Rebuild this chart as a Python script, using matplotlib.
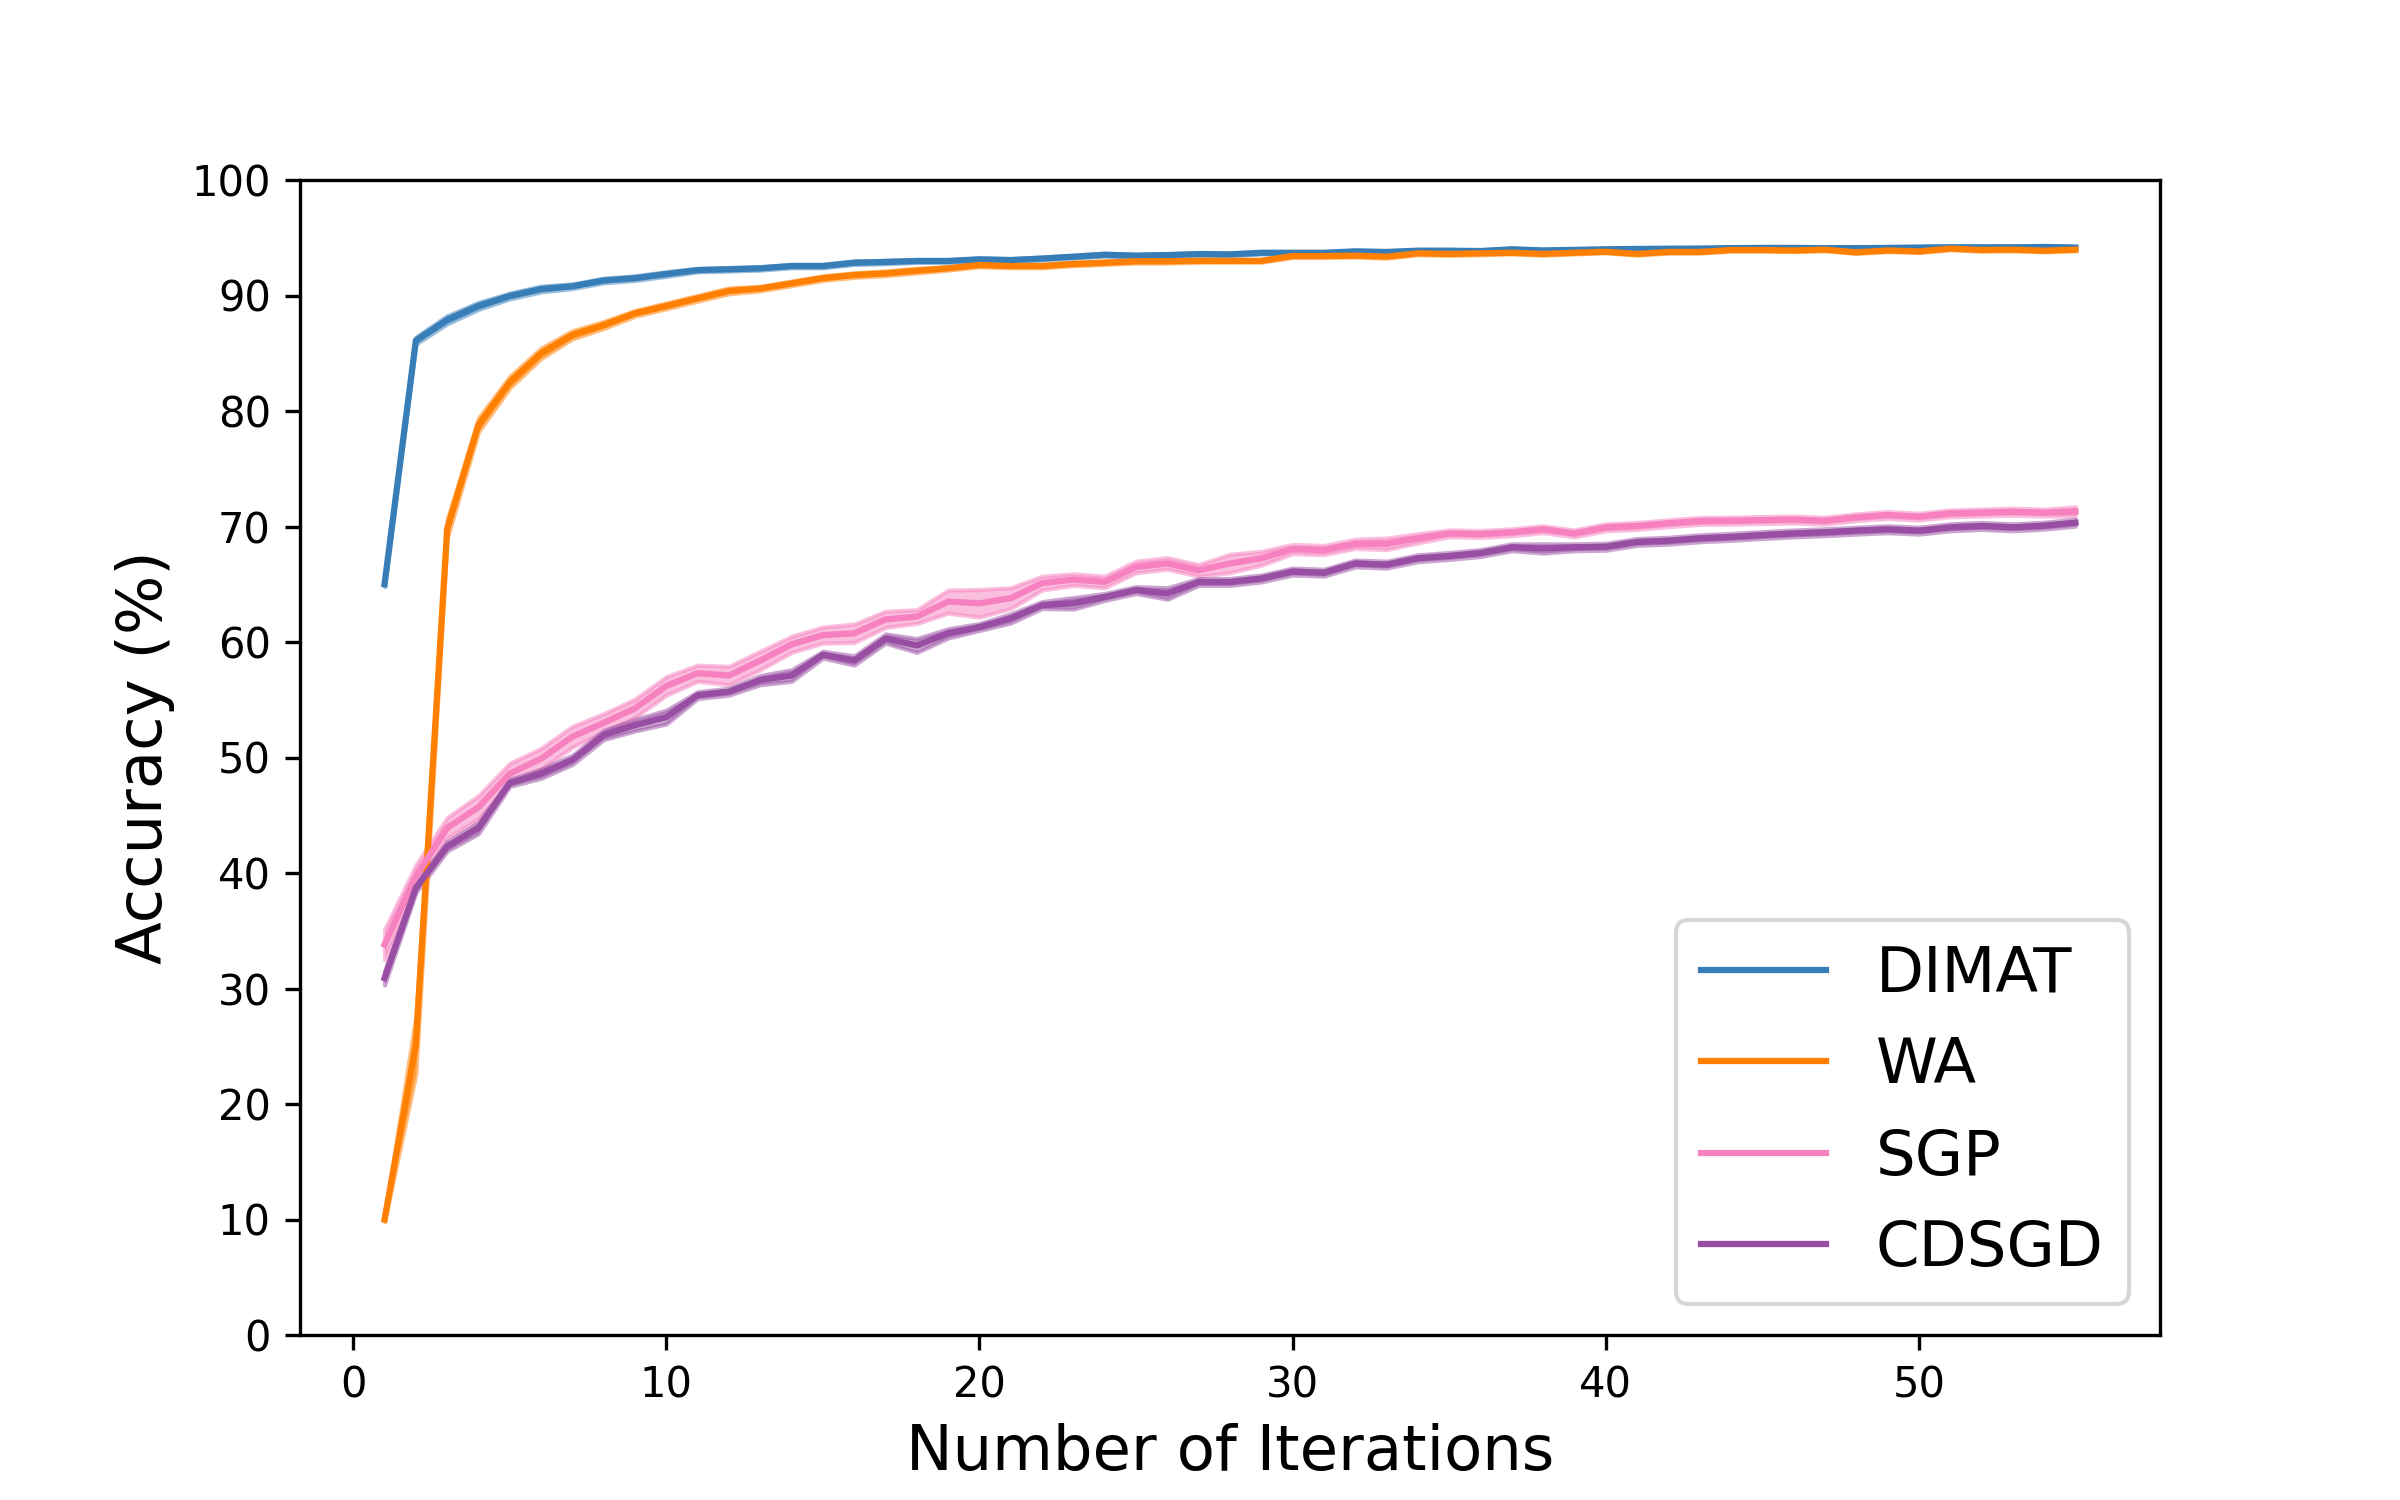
import numpy as np
import matplotlib
matplotlib.use('Agg')
import matplotlib.pyplot as plt

iterations = list(range(1, 56))

dimat_mean = [65.0, 86.1, 87.9, 89.1, 89.96, 90.56, 90.8, 91.3, 91.5, 91.86,
              92.2, 92.27, 92.35, 92.55, 92.55, 92.84, 92.9, 92.99, 92.99, 93.13,
              93.07, 93.2, 93.36, 93.53, 93.45, 93.5, 93.59, 93.56, 93.7, 93.7,
              93.7, 93.82, 93.77, 93.88, 93.88, 93.85, 94.0, 93.9, 93.95, 94.0,
              94.03, 94.05, 94.06, 94.1, 94.12, 94.12, 94.1, 94.1, 94.12, 94.15,
              94.17, 94.17, 94.17, 94.2, 94.15]
dimat_std = [0.2, 0.3, 0.35, 0.3, 0.25, 0.25, 0.2, 0.2, 0.2, 0.2,
             0.15, 0.15, 0.15, 0.15, 0.15, 0.15, 0.15, 0.12, 0.12, 0.12,
             0.12, 0.12, 0.12, 0.12, 0.12, 0.12, 0.1, 0.1, 0.1, 0.1,
             0.1, 0.1, 0.1, 0.1, 0.1, 0.1, 0.1, 0.1, 0.1, 0.1,
             0.1, 0.1, 0.1, 0.1, 0.1, 0.1, 0.1, 0.1, 0.1, 0.1,
             0.1, 0.1, 0.1, 0.1, 0.1]

wa_mean = [10.0, 25.1, 69.8, 78.8, 82.5, 85.0, 86.6, 87.45, 88.46, 89.1,
           89.76, 90.4, 90.6, 91.05, 91.5, 91.77, 91.92, 92.15, 92.35, 92.64,
           92.55, 92.55, 92.73, 92.84, 92.96, 92.96, 93.0, 93.0, 93.0, 93.42,
           93.42, 93.45, 93.36, 93.65, 93.6, 93.65, 93.7, 93.6, 93.7, 93.79,
           93.6, 93.77, 93.77, 93.94, 93.94, 93.9, 93.97, 93.74, 93.9, 93.82,
           94.06, 93.94, 93.97, 93.88, 93.97]
wa_std = [0.2, 2.5, 0.8, 0.6, 0.5, 0.45, 0.35, 0.3, 0.25, 0.25,
          0.25, 0.25, 0.2, 0.2, 0.2, 0.2, 0.2, 0.2, 0.15, 0.15,
          0.15, 0.15, 0.15, 0.15, 0.15, 0.15, 0.12, 0.12, 0.12, 0.12,
          0.12, 0.12, 0.12, 0.12, 0.12, 0.12, 0.1, 0.1, 0.1, 0.1,
          0.1, 0.1, 0.1, 0.1, 0.1, 0.1, 0.1, 0.1, 0.1, 0.1,
          0.1, 0.1, 0.1, 0.1, 0.1]

sgp_mean = [33.8, 39.7, 43.9, 45.7, 48.6, 49.9, 51.8, 53.0, 54.26, 56.2,
            57.3, 57.1, 58.4, 59.8, 60.6, 60.75, 61.96, 62.2, 63.5, 63.35,
            63.8, 65.1, 65.4, 65.2, 66.5, 66.8, 66.2, 66.8, 67.25, 68.05,
            67.96, 68.5, 68.5, 68.98, 69.4, 69.35, 69.5, 69.76, 69.4, 69.93,
            70.05, 70.28, 70.48, 70.5, 70.56, 70.6, 70.5, 70.8, 71.0, 70.85,
            71.14, 71.2, 71.28, 71.2, 71.3]
sgp_std = [1.3, 1.0, 0.9, 1.0, 0.9, 0.9, 0.9, 0.8, 0.8, 0.8,
           0.7, 0.8, 0.8, 0.7, 0.7, 0.8, 0.7, 0.6, 1.0, 1.2,
           0.9, 0.6, 0.5, 0.5, 0.5, 0.5, 0.5, 0.8, 0.6, 0.4,
           0.4, 0.4, 0.5, 0.4, 0.3, 0.3, 0.3, 0.3, 0.3, 0.3,
           0.3, 0.3, 0.3, 0.3, 0.3, 0.3, 0.3, 0.3, 0.3, 0.3,
           0.3, 0.3, 0.3, 0.3, 0.4]

cdsgd_mean = [30.9, 38.7, 42.3, 43.9, 47.8, 48.6, 49.8, 51.95, 52.8, 53.5,
              55.4, 55.7, 56.7, 57.1, 58.9, 58.4, 60.3, 59.7, 60.75, 61.3,
              62.05, 63.2, 63.35, 63.9, 64.5, 64.2, 65.2, 65.2, 65.5, 66.1,
              66.0, 66.8, 66.7, 67.25, 67.45, 67.7, 68.2, 68.1, 68.2, 68.25,
              68.66, 68.77, 68.98, 69.1, 69.26, 69.4, 69.5, 69.64, 69.76, 69.64,
              69.93, 70.05, 69.93, 70.07, 70.33]
cdsgd_std = [0.6, 0.4, 0.4, 0.5, 0.3, 0.4, 0.4, 0.4, 0.5, 0.6,
             0.3, 0.3, 0.4, 0.5, 0.3, 0.4, 0.4, 0.6, 0.4, 0.3,
             0.4, 0.3, 0.5, 0.3, 0.3, 0.5, 0.3, 0.3, 0.3, 0.3,
             0.3, 0.3, 0.3, 0.3, 0.3, 0.3, 0.3, 0.4, 0.3, 0.3,
             0.3, 0.3, 0.3, 0.3, 0.3, 0.3, 0.3, 0.3, 0.3, 0.3,
             0.3, 0.3, 0.3, 0.3, 0.3]

labels = ['DIMAT', 'WA', 'SGP', 'CDSGD']
colors = ['#377eb8', '#ff7f00', '#f781bf', '#984ea3']


def main():
    x = np.array(iterations)
    means = [dimat_mean, wa_mean, sgp_mean, cdsgd_mean]
    stds = [dimat_std, wa_std, sgp_std, cdsgd_std]

    fig, ax = plt.subplots(figsize=(8, 5), dpi=300)
    for m, s, lab, c in zip(means, stds, labels, colors):
        m = np.array(m)
        s = np.array(s)
        ax.plot(x, m, color=c, label=lab, linewidth=1.5)
        ax.fill_between(x, m - s, m + s, color=c, alpha=0.5)

    ax.set_ylim(0, 100)
    ax.set_yticks(range(0, 101, 10))
    ax.set_xlabel('Number of Iterations', fontsize=15)
    ax.set_ylabel('Accuracy (%)', fontsize=15)
    ax.legend(loc='lower right', fontsize=15)

    fig.savefig('out.png', dpi=300)


if __name__ == '__main__':
    main()
